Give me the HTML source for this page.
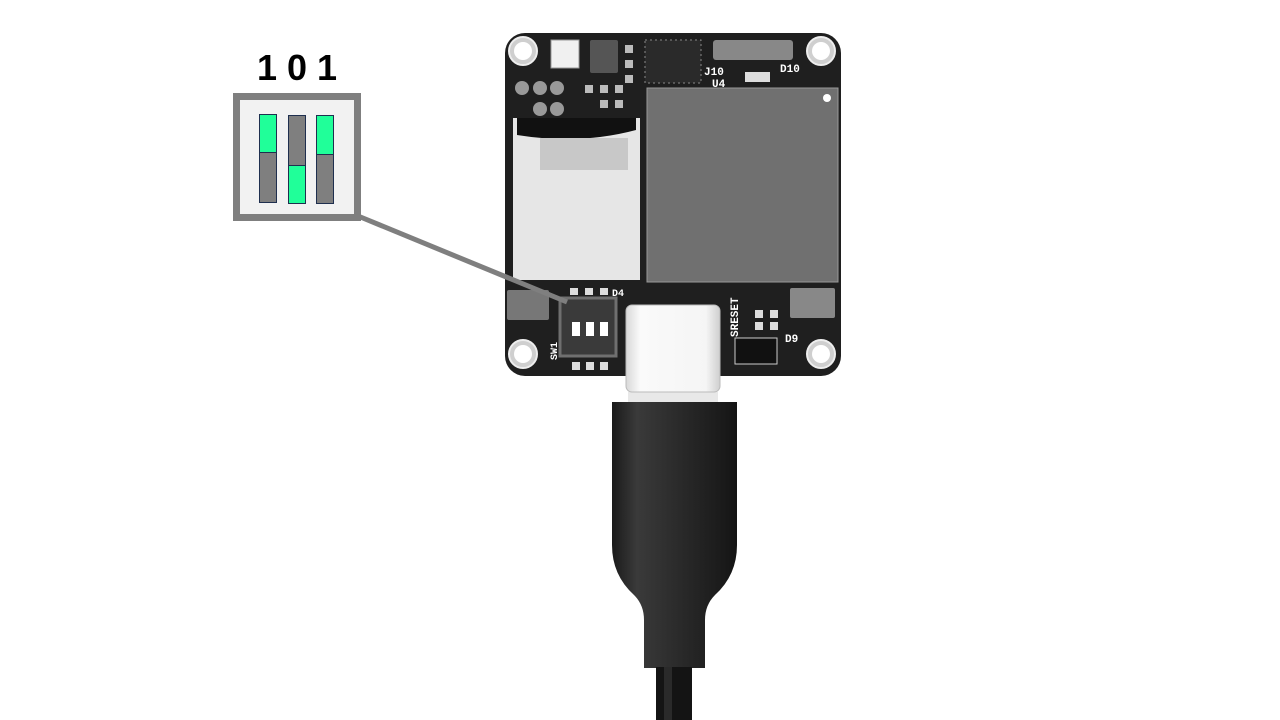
<!DOCTYPE html>
<html><head><meta charset="utf-8"><style>
html,body{margin:0;padding:0;background:#fff;width:1280px;height:720px;overflow:hidden}
</style></head><body>
<svg width="1280" height="720" viewBox="0 0 1280 720" xmlns="http://www.w3.org/2000/svg">
<defs>
<linearGradient id="cab" x1="0" x2="1" y1="0" y2="0">
<stop offset="0" stop-color="#1a1a1a"/><stop offset="0.2" stop-color="#3a3a3a"/><stop offset="0.5" stop-color="#2c2c2c"/><stop offset="0.85" stop-color="#1c1c1c"/><stop offset="1" stop-color="#141414"/>
</linearGradient>
<linearGradient id="usb" x1="0" x2="1"><stop offset="0" stop-color="#d8d8d8"/><stop offset="0.15" stop-color="#fafafa"/><stop offset="0.85" stop-color="#f5f5f5"/><stop offset="1" stop-color="#cfcfcf"/></linearGradient>
</defs>
<rect x="505" y="33" width="336" height="343" rx="20" fill="#1f1f1f"/>
<g fill="#cfcfcf" stroke="#eee" stroke-width="2">
<circle cx="523" cy="51" r="14"/><circle cx="821" cy="51" r="14"/><circle cx="523" cy="354" r="14"/><circle cx="821" cy="354" r="14"/>
</g>
<g fill="#fff"><circle cx="523" cy="51" r="9"/><circle cx="821" cy="51" r="9"/><circle cx="523" cy="354" r="9"/><circle cx="821" cy="354" r="9"/></g>
<rect x="551" y="40" width="28" height="28" fill="#f0f0f0" stroke="#999"/>
<rect x="590" y="40" width="28" height="33" fill="#555" rx="2"/>
<rect x="645" y="40" width="56" height="43" fill="#2a2a2a" stroke="#888" stroke-dasharray="2 3"/>
<rect x="713" y="40" width="80" height="20" fill="#888" rx="3"/>
<rect x="745" y="72" width="25" height="10" fill="#ddd"/>
<g fill="#999"><circle cx="522" cy="88" r="7"/><circle cx="540" cy="88" r="7"/><circle cx="557" cy="88" r="7"/><circle cx="540" cy="109" r="7"/><circle cx="557" cy="109" r="7"/></g>
<g fill="#bbb"><rect x="585" y="85" width="8" height="8"/><rect x="600" y="85" width="8" height="8"/><rect x="615" y="85" width="8" height="8"/><rect x="600" y="100" width="8" height="8"/><rect x="615" y="100" width="8" height="8"/><rect x="625" y="45" width="8" height="8"/><rect x="625" y="60" width="8" height="8"/><rect x="625" y="75" width="8" height="8"/></g>
<g fill="#fff" font-family="Liberation Mono, monospace" font-size="11" font-weight="bold">
<text x="704" y="75">J10</text><text x="780" y="72">D10</text><text x="712" y="87">U4</text>
<text x="0" y="0" transform="translate(738 337) rotate(-90)">SRESET</text>
<text x="785" y="342">D9</text><text x="612" y="296" font-size="10">D4</text>
<text x="0" y="0" font-size="10" transform="translate(557 360) rotate(-90)">SW1</text>
</g>
<rect x="647" y="88" width="191" height="194" fill="#707070" stroke="#999"/>
<circle cx="827" cy="98" r="4" fill="#fff"/>
<rect x="513" y="118" width="127" height="162" fill="#e6e6e6"/>
<path d="M517 118 H636 V130 Q580 145 517 135 Z" fill="#111"/>
<rect x="540" y="138" width="88" height="32" fill="#c8c8c8"/>
<rect x="507" y="290" width="42" height="30" fill="#777" rx="2"/>
<rect x="790" y="288" width="45" height="30" fill="#888" rx="2"/>
<g fill="#ddd"><rect x="570" y="288" width="8" height="7"/><rect x="585" y="288" width="8" height="7"/><rect x="600" y="288" width="8" height="7"/><rect x="572" y="362" width="8" height="8"/><rect x="586" y="362" width="8" height="8"/><rect x="600" y="362" width="8" height="8"/><rect x="755" y="310" width="8" height="8"/><rect x="770" y="310" width="8" height="8"/><rect x="755" y="322" width="8" height="8"/><rect x="770" y="322" width="8" height="8"/></g>
<rect x="735" y="338" width="42" height="26" fill="#111" stroke="#ccc"/>
<rect x="560" y="298" width="56" height="58" fill="#3a3a3a" stroke="#6f6f6f" stroke-width="3"/>
<g fill="#fff"><rect x="572" y="322" width="8" height="14"/><rect x="586" y="322" width="8" height="14"/><rect x="600" y="322" width="8" height="14"/></g>
<rect x="628" y="392" width="90" height="14" fill="#e8e8e8"/>
<rect x="626" y="305" width="94" height="87" rx="6" fill="url(#usb)" stroke="#bbb"/>
<path d="M612 402 H737 V545 Q737 575 715 595 Q705 605 705 620 V668 H644 V620 Q644 605 634 595 Q612 575 612 545 Z" fill="url(#cab)"/>
<rect x="656" y="667" width="36" height="53" fill="#141414"/>
<rect x="664" y="667" width="8" height="53" fill="#2a2a2a"/>
<line x1="358" y1="216" x2="567" y2="302" stroke="#7f7f7f" stroke-width="5"/>
<rect x="236.5" y="96.5" width="121" height="121" fill="#f2f2f2" stroke="#7f7f7f" stroke-width="7"/>
<g stroke="#1f2f4f" stroke-width="1">
<rect x="259.5" y="114.5" width="17" height="88" fill="#7f7f7f"/><rect x="259.5" y="114.5" width="17" height="38" fill="#20ff99"/>
<rect x="288.5" y="115.5" width="17" height="88" fill="#7f7f7f"/><rect x="288.5" y="165.5" width="17" height="38" fill="#20ff99"/>
<rect x="316.5" y="115.5" width="17" height="88" fill="#7f7f7f"/><rect x="316.5" y="115.5" width="17" height="39" fill="#20ff99"/>
</g>
<text x="297" y="80" text-anchor="middle" font-family="Liberation Sans, sans-serif" font-weight="bold" font-size="36" fill="#000">1 0 1</text>
</svg>
</body></html>
